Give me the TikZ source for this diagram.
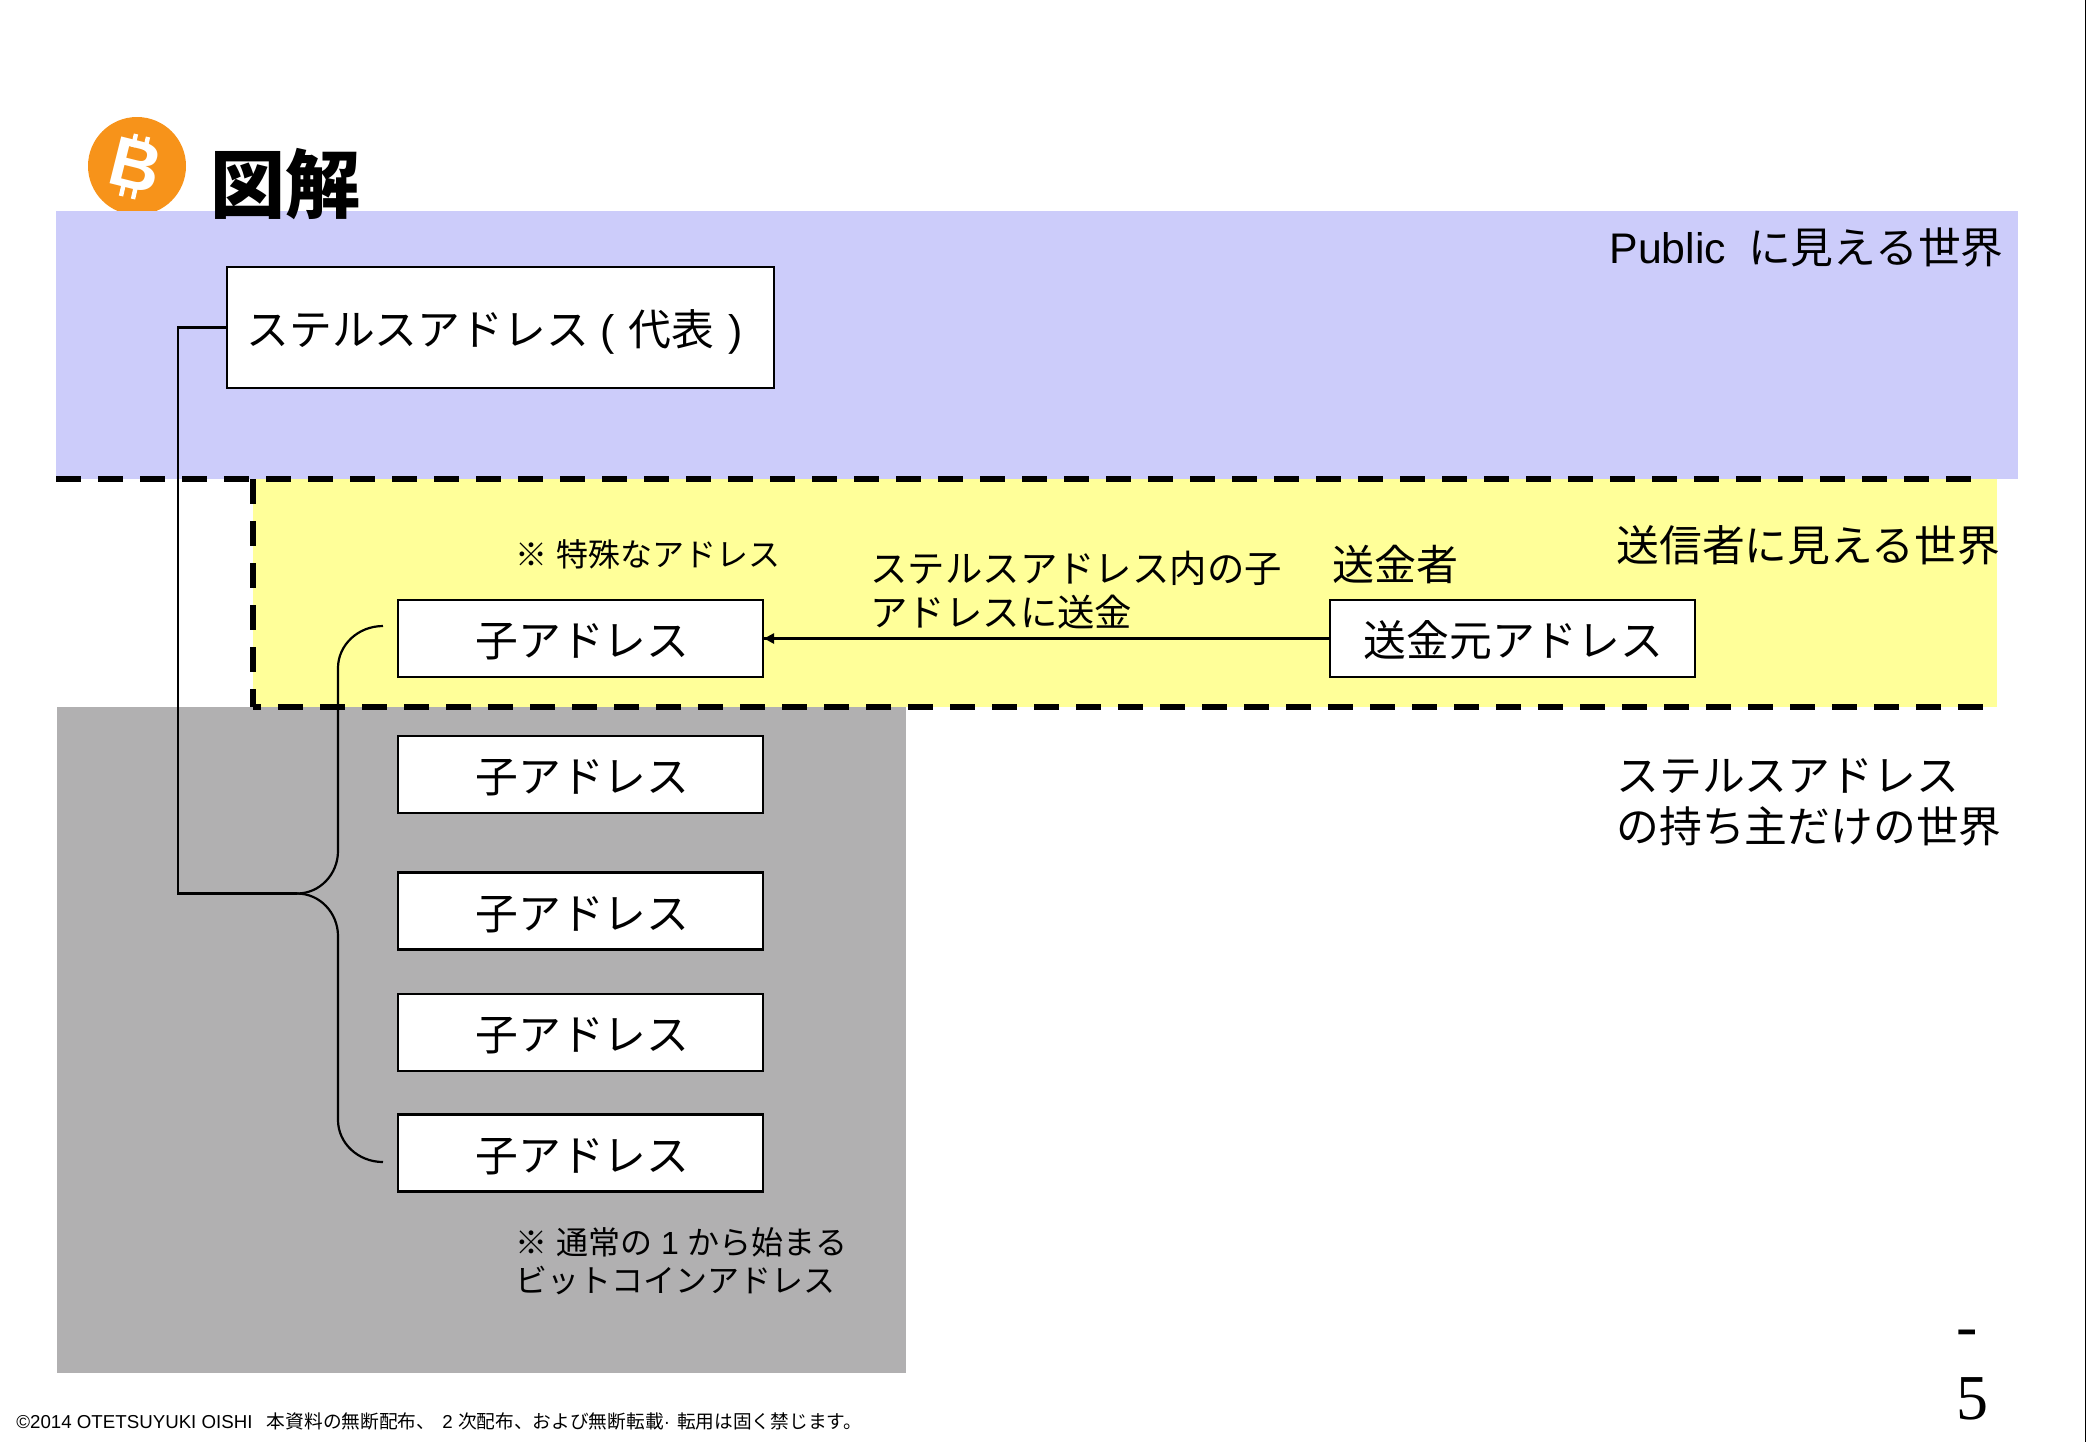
\documentclass[tikz,border=0pt]{standalone}
\usepackage{fontspec}
\setmainfont{Noto Sans CJK JP}
\newfontfamily\latin{Liberation Sans}
\newfontfamily\pagefont{Liberation Serif}
\definecolor{publicblue}{RGB}{204,204,250}
\definecolor{senderyellow}{RGB}{255,255,153}
\definecolor{ownergray}{RGB}{177,176,177}
\definecolor{coinorange}{RGB}{247,147,26}
\tikzset{
  addrbox/.style={draw=black, line width=1.2pt, fill=white, inner sep=0pt, text height=19pt, text depth=0.6pt, font=\fontsize{21.4}{25}\selectfont},
  worldtext/.style={anchor=west, align=left, inner sep=0pt, font=\fontsize{21.4}{25.5}\selectfont},
  notetext/.style={anchor=west, align=left, inner sep=0pt, font=\fontsize{16}{19}\selectfont},
  border/.style={line width=3pt, dash pattern=on 12.25pt off 8.75pt},
  link/.style={line width=1.1pt}
}
\begin{document}
\begin{tikzpicture}[x=0.5pt, y=-0.5pt]
\useasboundingbox (0,0) rectangle (2086,1442);

% coin
\node[circle, fill=coinorange, minimum size=49pt, inner sep=0pt] (coin) at (137,166) {};
\draw[white, line width=2.2pt] (133,147) -- (136,134) (145,150) -- (148,137) (124,183) -- (121,196) (136,186) -- (133,199);
\node[white, rotate=-14, inner sep=0pt, font=\latin\bfseries\fontsize{35}{35}\selectfont] (coinb) at (136,165) {B};

% the three worlds
\fill[publicblue] (56,211) rectangle (2018,479);
\fill[senderyellow] (253,479) rectangle (1997,707);
\fill[ownergray] (57,707) rectangle (906,1373);
\draw[border] (56,479) -- (1976,479);
\draw[border] (253,479) -- (253,707);
\draw[border, dash phase=8.5pt] (253,707) -- (1990,707);
\fill (2085,0) rectangle (2086,1442);

\node[inner sep=0pt, font=\bfseries\fontsize{37.5}{40}\selectfont] (title) at (285,184) {図解};

% addresses
\node[addrbox, minimum width=273.5pt, minimum height=60.5pt] (stealth) at (500.5,327.5) {ステルスアドレス{\latin\ (\hspace{1pt}\ }代表{\latin\hspace{1pt}\ )}\kern6pt};
\node[addrbox, minimum width=182.5pt, minimum height=38.5pt] (sender) at (1512.5,638.5) {\hspace{1pt}送金元アドレス};
\foreach \n/\y in {1/638.5,2/774.5,3/911,4/1032.5,5/1153}
  \node[addrbox, minimum width=182.5pt, minimum height=38.5pt] (child\n) at (580.5,\y) {\hspace{2pt}子アドレス};

% labels
\node[worldtext, anchor=east] (publiclabel) at (2004,247) {{\latin Public}\hspace{11pt}に見える世界};
\node[worldtext] (senderlabel) at (1616,545) {送信者に見える世界};
\node[worldtext] (ownerlabel) at (1616,802) {ステルスアドレス\\の持ち主だけの世界};
\node[worldtext, font=\fontsize{21}{25}\selectfont] (senderword) at (1332,565) {送金者};
\node[worldtext, font=\fontsize{18.7}{22}\selectfont] (sendnote) at (870,590) {ステルスアドレス内の子\\アドレスに送金};
\node[notetext] (specialnote) at (515,554) {※{\latin\ }特殊なアドレス};
\node[notetext] (normalnote) at (515,1261) {※{\latin\ }通常の{\latin\ 1\ }から始まる\\ビットコインアドレス};

\node[anchor=west, inner sep=0pt, align=left, font=\pagefont\fontsize{32}{36}\selectfont] (pagenum) at (1956,1375) {-\\5};
\node[anchor=west, inner sep=0pt, font=\fontsize{9.35}{11}\selectfont] (footer) at (16,1421) {{\latin ©2014 OTETSUYUKI OISHI\ \ \hspace{2pt}}本資料の無断配布、{\latin\hspace{1pt}\ 2\ }次配布、および無断転載{\latin ·\ \hspace{1pt}}転用は固く禁じます。};

% connectors
\coordinate (brjoin) at (297,893.5);
\coordinate (brtop) at (383,626);
\coordinate (brbot) at (383,1162);
\draw[link] (stealth.west) -- (178,327.5) -- (178,893.5) -- (brjoin);
\draw[link] (brjoin) .. controls (320,893.5) and (338,874) .. (338,851) -- (338,668) .. controls (338,645) and (358,626) .. (brtop);
\draw[link] (brjoin) .. controls (320,893.5) and (338,913) .. (338,936) -- (338,1120) .. controls (338,1143) and (358,1162) .. (brbot);
\fill (child1.east) -- ++(10,-5.5) -- ++(0,11) -- cycle;
\draw[link] (sender.west) -- (child1.east);
\end{tikzpicture}
\end{document}
